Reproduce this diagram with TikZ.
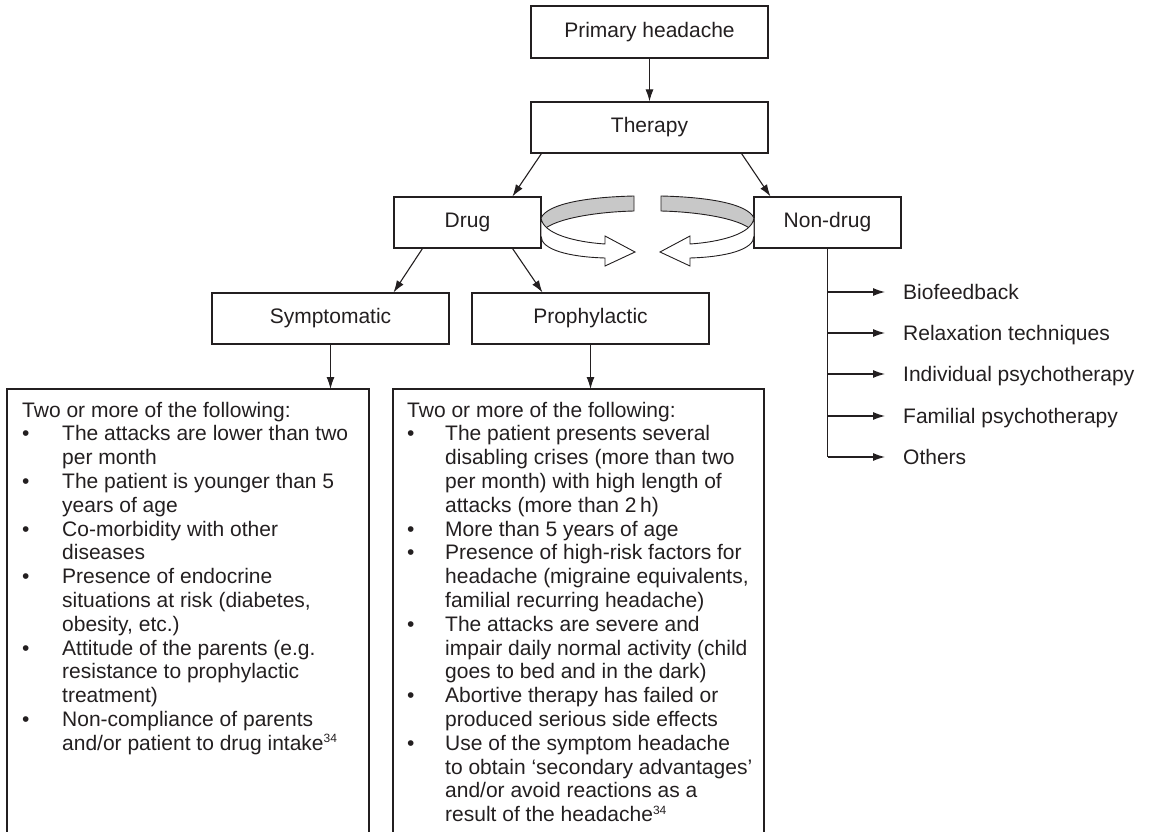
\documentclass[tikz,border=0pt]{standalone}
\usepackage{fontspec}
\setmainfont{Liberation Sans}
\usetikzlibrary{arrows.meta}
\definecolor{ink}{HTML}{231F20}
\definecolor{bandgray}{HTML}{C8C8C8}
\newcommand{\refsup}[1]{\raisebox{7.5pt}{\fontsize{12}{12}\selectfont #1}}
\begin{document}
\begin{tikzpicture}[x=1pt,y=-1pt,
  font=\fontsize{21}{23.8}\selectfont, color=ink,
  box/.style={draw=ink, line width=1.1pt, minimum width=237pt, minimum height=52pt,
    inner sep=0pt, text height=15pt, text depth=4.4pt},
  smallbox/.style={box, minimum width=147pt, minimum height=51pt},
  arr/.style={draw=ink, line width=1.1pt, -{Latex[length=12pt,width=8pt]}},
  frame/.style={draw=ink, line width=1.1pt},
  listtext/.style={anchor=base west, inner sep=0pt},
  item/.style={anchor=west, inner xsep=18pt, inner ysep=0pt, text height=15pt, text depth=0pt},
  ring/.style={draw=ink, line width=0.9pt, line join=miter}
]
\useasboundingbox (0,0) rectangle (1149,832);

% boxes
\node[box] (prim) at (649.5,32) {Primary headache};
\node[box, minimum height=51pt] (ther) at (649.5,127.5) {Therapy};
\node[smallbox] (drug) at (467.5,222.5) {Drug};
\node[smallbox] (nondrug) at (827.5,222.5) {Non-drug};
\node[box, minimum height=51pt] (symp) at (330.5,318.5) {Symptomatic};
\node[box, minimum height=51pt] (proph) at (590.5,318.5) {Prophylactic};

% connectors
\draw[arr] (prim.south) -- (ther.north);
\draw[arr] ([xshift=11pt]ther.south west) -- ([xshift=119pt]drug.north west);
\draw[arr] ([xshift=-27pt]ther.south east) -- ([xshift=17pt]nondrug.north west);
\draw[arr] ([xshift=29pt]drug.south west) -- ([xshift=-56pt]symp.north east);
\draw[arr] ([xshift=-29pt]drug.south east) -- ([xshift=71pt]proph.north west);

% rotating arrows (left)
\path[ring, fill=bandgray] (541,218) .. controls (548,203) and (590,197) .. (634,196)
  -- (634,211) .. controls (592,212) and (548,220) .. (541,233) -- cycle;
\path[ring, fill=white] (541,218) .. controls (543,234) and (575,242) .. (605,244)
  -- (605,236) -- (635,252) -- (605,266) -- (605,258)
  .. controls (570,257) and (541,250) .. (541,236) -- cycle;
% rotating arrows (right)
\path[ring, fill=bandgray] (754,218) .. controls (747,203) and (705,197) .. (661,196)
  -- (661,211) .. controls (703,212) and (747,220) .. (754,233) -- cycle;
\path[ring, fill=white] (754,218) .. controls (752,234) and (720,242) .. (690,244)
  -- (690,236) -- (660,252) -- (690,266) -- (690,258)
  .. controls (725,257) and (754,250) .. (754,236) -- cycle;

% criteria boxes
\draw[frame] (7,832) -- (7,389) -- (369,389) -- (369,832);
\draw[frame] (393,832) -- (393,389) -- (764,389) -- (764,832);
\coordinate (symin) at (330.5,389);
\coordinate (prin) at (590.5,389);
\draw[arr] (symp.south) -- (symin);
\draw[arr] (proph.south) -- (prin);

\node[listtext] (symlist) at (22,417) {\begin{tabular}[t]{@{}p{40pt}@{}l@{}}
\multicolumn{2}{@{}l@{}}{Two or more of the following:}\\
•&The attacks are lower than two\\
&per month\\
•&The patient is younger than 5\\
&years of age\\
•&Co-morbidity with other\\
&diseases\\
•&Presence of endocrine\\
&situations at risk (diabetes,\\
&obesity, etc.)\\
•&Attitude of the parents (e.g.\\
&resistance to prophylactic\\
&treatment)\\
•&Non-compliance of parents\\
&and/or patient to drug intake\refsup{34}
\end{tabular}};

\node[listtext] (prolist) at (407,417) {\begin{tabular}[t]{@{}p{38pt}@{}l@{}}
\multicolumn{2}{@{}l@{}}{Two or more of the following:}\\
•&The patient presents several\\
&disabling crises (more than two\\
&per month) with high length of\\
&attacks (more than 2\,h)\\
•&More than 5 years of age\\
•&Presence of high-risk factors for\\
&headache (migraine equivalents,\\
&familial recurring headache)\\
•&The attacks are severe and\\
&impair daily normal activity (child\\
&goes to bed and in the dark)\\
•&Abortive therapy has failed or\\
&produced serious side effects\\
•&Use of the symptom headache\\
&to obtain ‘secondary advantages’\\
&and/or avoid reactions as a\\
&result of the headache\refsup{34}
\end{tabular}};

% non-drug list
\node[item] (bio) at (885,292) {Biofeedback};
\node[item] (relax) at (885,333) {Relaxation techniques};
\node[item] (indiv) at (885,374) {Individual psychotherapy};
\node[item] (famil) at (885,416) {Familial psychotherapy};
\node[item] (others) at (885,457) {Others};
\draw[frame] (nondrug.south) -- (nondrug.south |- others.west);
\draw[arr] (nondrug.south |- bio.west) -- (bio.west);
\draw[arr] (nondrug.south |- relax.west) -- (relax.west);
\draw[arr] (nondrug.south |- indiv.west) -- (indiv.west);
\draw[arr] (nondrug.south |- famil.west) -- (famil.west);
\draw[arr] (nondrug.south |- others.west) -- (others.west);
\end{tikzpicture}
\end{document}
